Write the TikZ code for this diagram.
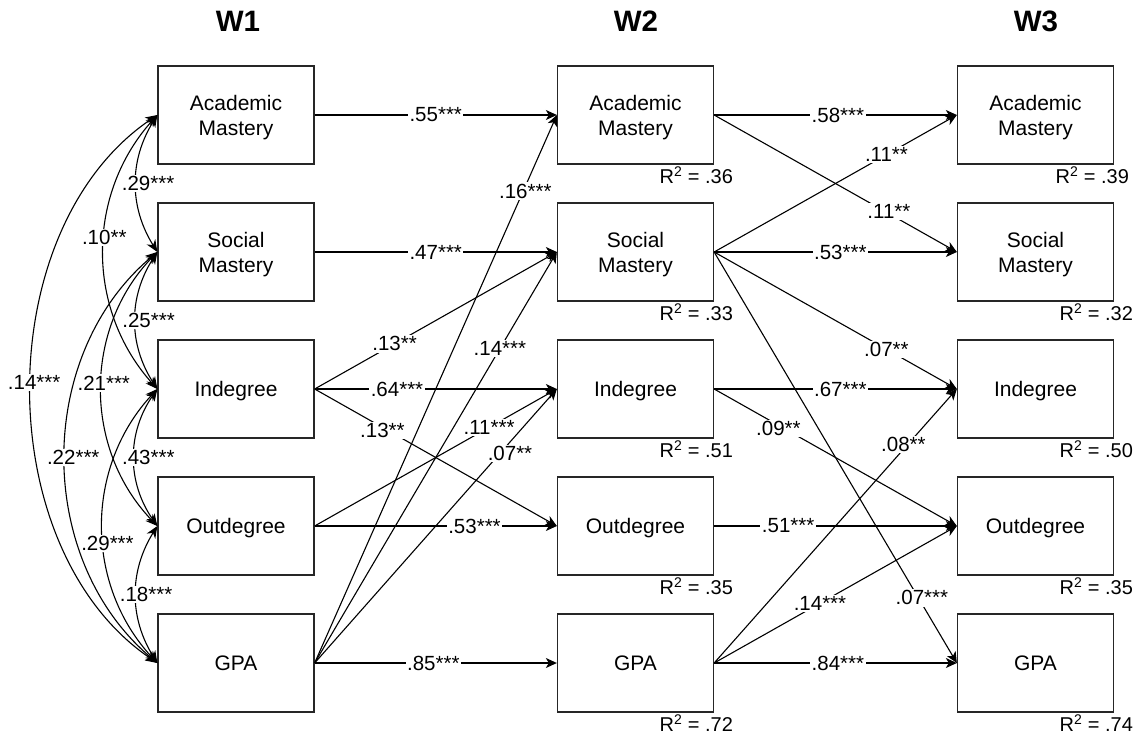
\documentclass[tikz,border=0pt]{standalone}
\usepackage{fontspec}
\setmainfont{Liberation Sans}
\usetikzlibrary{arrows.meta}
\begin{document}
\begin{tikzpicture}[x=1pt,y=-1pt,
  box/.style={draw=black!85, line width=1.3pt, minimum width=156pt, minimum height=98pt, inner sep=0pt, align=center, text depth=0pt, font=\fontsize{21}{25}\selectfont},
  ttl/.style={font=\fontsize{29.5}{30}\selectfont\bfseries},
  lab/.style={fill=white, inner sep=1.5pt, font=\fontsize{20.5}{21}\selectfont},
  rsq/.style={anchor=base east, inner sep=0pt, font=\fontsize{20}{20}\selectfont},
  pth/.style={line width=1.1pt, -{Stealth[length=11pt,width=10pt,inset=3pt]}},
  cov/.style={line width=1.1pt, {Stealth[length=12pt,width=10pt]}-{Stealth[length=12pt,width=10pt]}}
]
\useasboundingbox (0,0) rectangle (1144,736);

% titles
\node[ttl] (t1) at (238,21) {W1};
\node[ttl] (t2) at (636,21) {W2};
\node[ttl] (t3) at (1036,21) {W3};

% W1
\node[box] (a1) at (236,115) {Academic\\Mastery};
\node[box] (s1) at (236,252) {Social\\Mastery};
\node[box] (i1) at (236,389) {Indegree};
\node[box] (o1) at (236,526) {Outdegree};
\node[box] (g1) at (236,663) {GPA};
% W2
\node[box] (a2) at (635.5,115) {Academic\\Mastery};
\node[box] (s2) at (635.5,252) {Social\\Mastery};
\node[box] (i2) at (635.5,389) {Indegree};
\node[box] (o2) at (635.5,526) {Outdegree};
\node[box] (g2) at (635.5,663) {GPA};
% W3
\node[box] (a3) at (1035.5,115) {Academic\\Mastery};
\node[box] (s3) at (1035.5,252) {Social\\Mastery};
\node[box] (i3) at (1035.5,389) {Indegree};
\node[box] (o3) at (1035.5,526) {Outdegree};
\node[box] (g3) at (1035.5,663) {GPA};

% R squared
\node[rsq] (ra2) at ([xshift=19pt,yshift=-19pt]a2.south east) {R\textsuperscript{2} = .36};
\node[rsq] (rs2) at ([xshift=19pt,yshift=-19pt]s2.south east) {R\textsuperscript{2} = .33};
\node[rsq] (ri2) at ([xshift=19pt,yshift=-19pt]i2.south east) {R\textsuperscript{2} = .51};
\node[rsq] (ro2) at ([xshift=19pt,yshift=-19pt]o2.south east) {R\textsuperscript{2} = .35};
\node[rsq] (rg2) at ([xshift=19pt,yshift=-19pt]g2.south east) {R\textsuperscript{2} = .72};
\node[rsq] (ra3) at ([xshift=15pt,yshift=-19pt]a3.south east) {R\textsuperscript{2} = .39};
\node[rsq] (rs3) at ([xshift=19pt,yshift=-19pt]s3.south east) {R\textsuperscript{2} = .32};
\node[rsq] (ri3) at ([xshift=19pt,yshift=-19pt]i3.south east) {R\textsuperscript{2} = .50};
\node[rsq] (ro3) at ([xshift=19pt,yshift=-19pt]o3.south east) {R\textsuperscript{2} = .35};
\node[rsq] (rg3) at ([xshift=19pt,yshift=-19pt]g3.south east) {R\textsuperscript{2} = .74};

% W1 -> W2
\draw[pth] (a1.east) -- node[lab,pos=0.5]{.55***} (a2.west);
\draw[pth] (s1.east) -- node[lab,pos=0.5]{.47***} (s2.west);
\draw[pth] (i1.east) -- node[lab,pos=0.34]{.64***} (i2.west);
\draw[pth] (o1.east) -- node[lab,pos=0.66]{.53***} (o2.west);
\draw[pth] (g1.east) -- node[lab,pos=0.49]{.85***} (g2.west);
\draw[pth] (i1.east) -- node[lab,pos=0.33]{.13**} (s2.west);
\draw[pth] (i1.east) -- node[lab,pos=0.28,yshift=-3pt]{.13**} (o2.west);
\draw[pth] (o1.east) -- node[lab,pos=0.72]{.11***} (i2.west);
\draw[pth] (g1.east) -- node[lab,pos=0.87,yshift=-5pt]{.16***} (a2.west);
\draw[pth] (g1.east) -- node[lab,pos=0.765]{.14***} (s2.west);
\draw[pth] (g1.east) -- node[lab,pos=0.79,xshift=4pt,yshift=-7pt]{.07**} (i2.west);

% W2 -> W3
\draw[pth] (a2.east) -- node[lab,pos=0.51]{.58***} (a3.west);
\draw[pth] (a2.east) -- node[lab,pos=0.72,yshift=2pt]{.11**} (s3.west);
\draw[pth] (s2.east) -- node[lab,pos=0.71]{.11**} (a3.west);
\draw[pth] (s2.east) -- node[lab,pos=0.52]{.53***} (s3.west);
\draw[pth] (s2.east) -- node[lab,pos=0.71]{.07**} (i3.west);
\draw[pth] (s2.east) -- node[lab,pos=0.856,yshift=6pt]{.07***} (g3.west);
\draw[pth] (i2.east) -- node[lab,pos=0.52]{.67***} (i3.west);
\draw[pth] (i2.east) -- node[lab,pos=0.265,yshift=-3pt]{.09**} (o3.west);
\draw[pth] (o2.east) -- node[lab,pos=0.305]{.51***} (o3.west);
\draw[pth] (g2.east) -- node[lab,pos=0.78,yshift=5pt]{.08**} (i3.west);
\draw[pth] (g2.east) -- node[lab,pos=0.436]{.14***} (o3.west);
\draw[pth] (g2.east) -- node[lab,pos=0.51]{.84***} (g3.west);

% W1 covariances
\draw[cov] (a1.west) to[bend right=32] node[lab,pos=0.5,xshift=12pt]{.29***} (s1.west);
\draw[cov] (s1.west) to[bend right=33] node[lab,pos=0.5,xshift=13pt]{.25***} (i1.west);
\draw[cov] (i1.west) to[bend right=35] node[lab,pos=0.5,xshift=14pt]{.43***} (o1.west);
\draw[cov] (o1.west) to[bend right=32] node[lab,pos=0.5,xshift=10pt]{.18***} (g1.west);
\draw[cov] (a1.west) to[bend right=42] node[lab,pos=0.45]{.10**} (i1.west);
\draw[cov] (s1.west) to[bend right=44] node[lab,pos=0.48,xshift=2pt]{.21***} (o1.west);
\draw[cov] (i1.west) to[bend right=43] node[lab,pos=0.56,xshift=4pt]{.29***} (g1.west);
\draw[cov] (s1.west) to[bend right=50] node[lab,pos=0.5,xshift=8pt]{.22***} (g1.west);
\draw[cov] (a1.west) to[bend right=56,looseness=0.95] node[lab,pos=0.49,xshift=3pt]{.14***} (g1.west);
\end{tikzpicture}
\end{document}
